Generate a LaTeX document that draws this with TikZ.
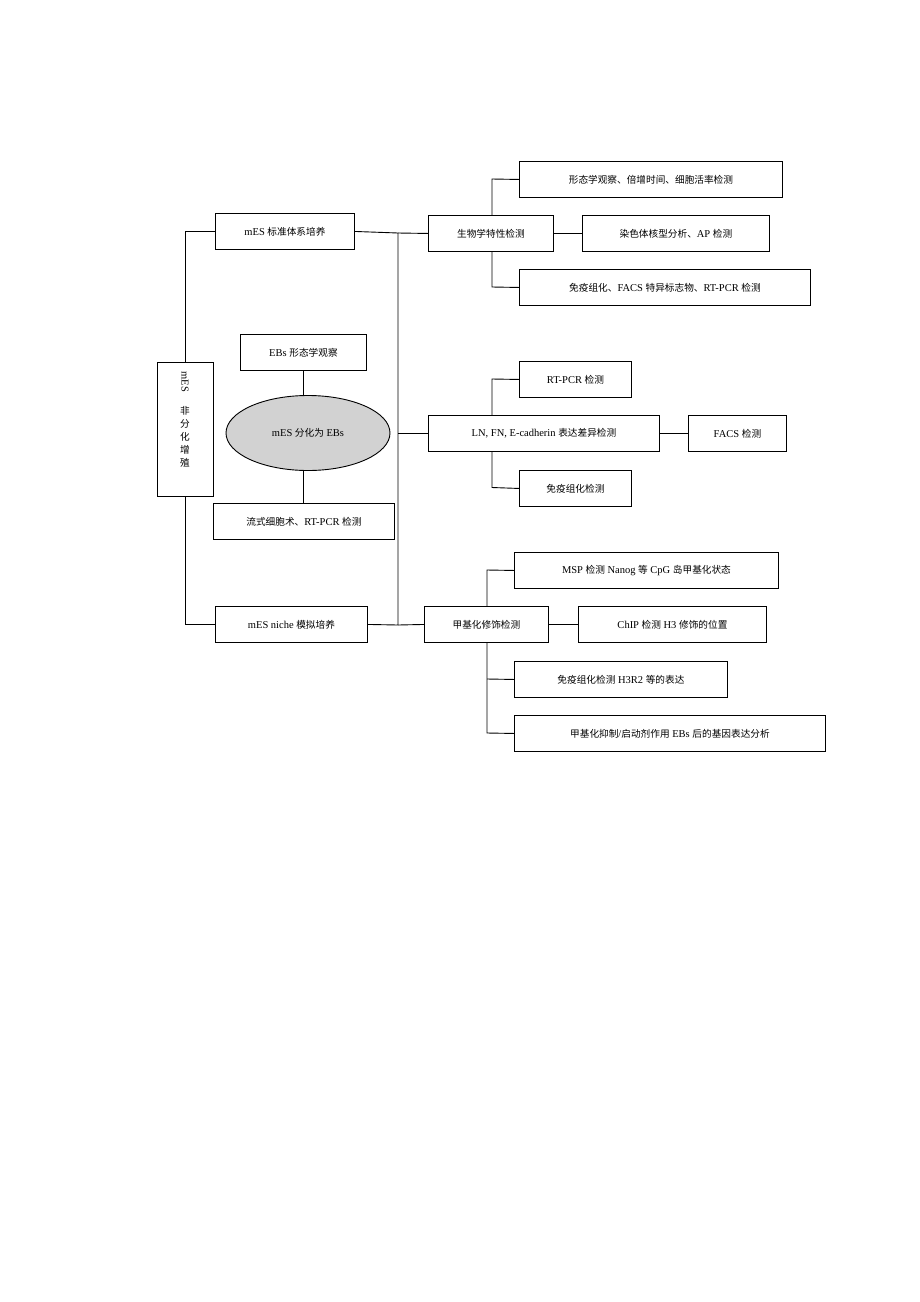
\documentclass[tikz,border=0pt]{standalone}
\usetikzlibrary{shapes.geometric}
\usepackage{fontspec}
\setmainfont{Liberation Serif}
\newfontfamily\cjk{Noto Sans CJK SC}[Scale=0.92]
\newcommand{\zh}[1]{{\cjk #1}}
\begin{document}
\begin{tikzpicture}[x=1pt,y=-1pt,
  bx/.style={draw,line width=0.9pt,minimum height=36pt,inner xsep=6pt,font=\fontsize{10.5}{12}\selectfont},
  ln/.style={line width=0.9pt}]
\useasboundingbox[fill=white] (0,0) rectangle (920,1302);
\tikzset{bb/.style args={#1/#2/#3/#4}{bx,minimum width=#2-#1,anchor=north west}}
% left
\node[draw,line width=0.9pt,minimum width=56pt,minimum height=134pt,anchor=north west] (L) at (157,362) {};
\node[font=\fontsize{10.5}{12}\selectfont,anchor=north] at (185,368) {\rotatebox{-90}{mES}};
\node[font=\fontsize{10.5}{13}\selectfont,align=center,anchor=north] at (185,403) {\zh{非}\\\zh{分}\\\zh{化}\\\zh{增}\\\zh{殖}};
\node[bb=215/354/213/249] (A) at (215,213) {mES \zh{标准体系培养}};
\node[bb=215/367/606/641] (B) at (215,606) {mES niche \zh{模拟培养}};
\draw[ln] (L.north) |- (A.west);
\draw[ln] (L.south) |- (B.west);
% EBs
\node[bb=240/366/334/370] (E1) at (240,334) {EBs \zh{形态学观察}};
\node[draw,ellipse,fill=gray!35,line width=0.9pt,minimum width=164pt,minimum height=75pt,font=\fontsize{10.5}{12}\selectfont] (EL) at (308,433) {mES \zh{分化为} EBs};
\node[bb=213/394/503/539] (E2) at (213,503) {\zh{流式细胞术、}RT-PCR \zh{检测}};
\draw[ln] (303,370) -- (303,395.5);
\draw[ln] (303,470.5) -- (303,503);
% trunk
\coordinate (t1) at (398,233); \coordinate (t2) at (398,625);
\draw[ln] (A.east) -- (t1) -- (t2) -- (B.east);
\node[bb=428/553/215/251] (C1) at (428,215) {\zh{生物学特性检测}};
\node[bb=428/659/415/452] (C2) at (428,415) {LN, FN, E-cadherin \zh{表达差异检测}};
\node[bb=424/548/606/642] (C3) at (424,606) {\zh{甲基化修饰检测}};
\draw[ln] (t1) -- (C1.west);
\draw[ln] (398,433.5) -- (C2.west);
\draw[ln] (t2) -- (C3.west);
% branch 1
\node[bb=519/782/161/196] (D1) at (519,161) {\zh{形态学观察、倍增时间、细胞活率检测}};
\node[bb=582/769/215/251] (D2) at (582,215) {\zh{染色体核型分析、}AP \zh{检测}};
\node[bb=519/810/269/305] (D3) at (519,269) {\zh{免疫组化、}FACS \zh{特异标志物、}RT-PCR \zh{检测}};
\draw[ln] (C1.east) -- (D2.west);
\draw[ln] (C1.north -| 492,0) -- (492,179) -- (D1.west);
\draw[ln] (C1.south -| 492,0) -- (492,287) -- (D3.west);
% branch 2
\node[bb=519/631/361/397] (F1) at (519,361) {RT-PCR \zh{检测}};
\node[bb=688/786/415/451] (F2) at (688,415) {FACS \zh{检测}};
\node[bb=519/631/470/505] (F3) at (519,470) {\zh{免疫组化检测}};
\draw[ln] (C2.east) -- (F2.west);
\draw[ln] (C2.north -| 492,0) -- (492,379) -- (F1.west);
\draw[ln] (C2.south -| 492,0) -- (492,487.5) -- (F3.west);
% branch 3
\node[bb=514/778/552/588] (G1) at (514,552) {MSP \zh{检测} Nanog \zh{等} CpG \zh{岛甲基化状态}};
\node[bb=578/766/606/642] (G2) at (578,606) {ChIP \zh{检测} H3 \zh{修饰的位置}};
\node[bb=514/727/661/697] (G3) at (514,661) {\zh{免疫组化检测} H3R2 \zh{等的表达}};
\node[bb=514/825/715/751] (G4) at (514,715) {\zh{甲基化抑制}/\zh{启动剂作用} EBs \zh{后的基因表达分析}};
\draw[ln] (C3.east) -- (G2.west);
\draw[ln] (C3.north -| 487,0) -- (487,570) -- (G1.west);
\draw[ln] (C3.south -| 487,0) -- (487,733) -- (G4.west);
\draw[ln] (487,679) -- (G3.west);
\end{tikzpicture}
\end{document}
